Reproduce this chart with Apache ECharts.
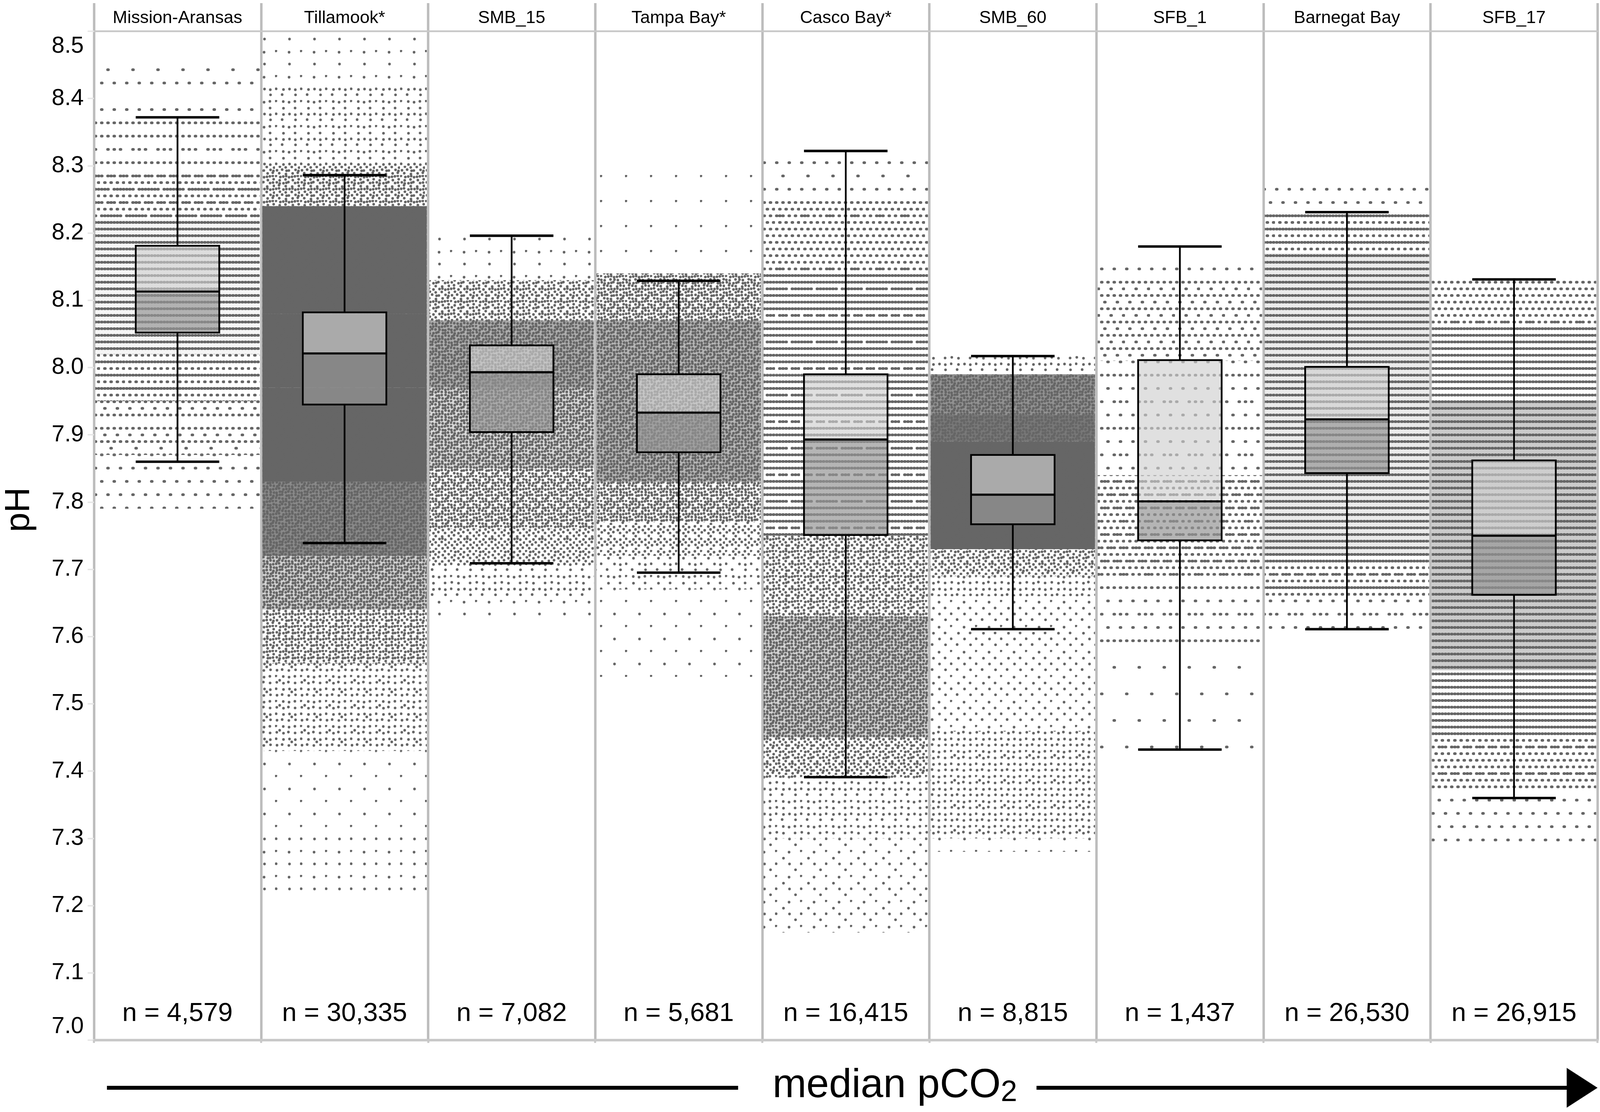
<!DOCTYPE html>
<html>
<head>
<meta charset="utf-8">
<title>pH by site</title>
<script src="https://cdn.jsdelivr.net/npm/echarts@6/dist/echarts.min.js"></script>
<style>html,body{margin:0;padding:0;background:#fff;overflow:hidden}#main{width:100vw;height:100vh}</style>
</head>
<body>
<div id="main"></div>
<script type="text/javascript">
// sites, ordered by median pCO2
var sites = ['Mission-Aransas', 'Tillamook*', 'SMB_15', 'Tampa Bay*', 'Casco Bay*', 'SMB_60', 'SFB_1', 'Barnegat Bay', 'SFB_17'];
var nCounts = ['4,579', '30,335', '7,082', '5,681', '16,415', '8,815', '1,437', '26,530', '26,915'];
var yTickLabels = ['7.0', '7.1', '7.2', '7.3', '7.4', '7.5', '7.6', '7.7', '7.8', '7.9', '8.0', '8.1', '8.2', '8.3', '8.4', '8.5'];

// [lower whisker, Q1, median, Q3, upper whisker]
var boxStats = [
    [7.860, 8.052, 8.113, 8.181, 8.372],
    [7.739, 7.945, 8.021, 8.082, 8.286],
    [7.709, 7.904, 7.993, 8.033, 8.196],
    [7.695, 7.874, 7.933, 7.990, 8.129],
    [7.391, 7.751, 7.893, 7.990, 8.322],
    [7.611, 7.767, 7.811, 7.870, 8.017],
    [7.432, 7.743, 7.801, 8.011, 8.180],
    [7.611, 7.843, 7.923, 8.001, 8.231],
    [7.360, 7.662, 7.750, 7.862, 8.131]
];

// point clouds read as bands: [top pH, bottom pH, share of area darkened by points, 's' stripes / 'd' scattered]
var cloudMissionAransas = [[8.45, 8.37, 0.03], [8.37, 8.29, 0.10], [8.29, 8.22, 0.28], [8.22, 8.02, 0.46], [8.02, 7.95, 0.32], [7.95, 7.87, 0.14], [7.87, 7.79, 0.05]];
var cloudTillamook = [[8.51, 8.42, 0.03], [8.42, 8.30, 0.11], [8.30, 8.24, 0.40], [8.24, 8.08, 1.00], [8.08, 7.97, 1.00], [7.97, 7.83, 1.00], [7.83, 7.72, 0.90], [7.72, 7.64, 0.70], [7.64, 7.56, 0.42], [7.56, 7.43, 0.16], [7.43, 7.31, 0.02], [7.31, 7.21, 0.04]];
var cloudSMB15 = [[8.20, 8.13, 0.03], [8.13, 8.07, 0.38], [8.07, 7.97, 0.80], [7.97, 7.85, 0.68], [7.85, 7.76, 0.50], [7.76, 7.71, 0.30], [7.71, 7.66, 0.12], [7.66, 7.62, 0.03]];
var cloudTampaBay = [[8.29, 8.14, 0.005], [8.14, 8.07, 0.50], [8.07, 7.83, 0.78], [7.83, 7.77, 0.52], [7.77, 7.72, 0.25], [7.72, 7.67, 0.10], [7.67, 7.54, 0.02]];
var cloudCascoBay = [[8.32, 8.25, 0.04], [8.25, 8.14, 0.22], [8.14, 7.99, 0.40], [7.99, 7.75, 0.40], [7.75, 7.63, 0.38, 'd'], [7.63, 7.45, 0.70, 'd'], [7.45, 7.39, 0.36, 'd'], [7.39, 7.30, 0.12, 'd'], [7.30, 7.16, 0.05, 'd']];
var cloudSMB60 = [[8.02, 7.99, 0.12], [7.99, 7.93, 0.88], [7.93, 7.89, 0.95], [7.89, 7.73, 1.00], [7.73, 7.69, 0.35], [7.69, 7.66, 0.14], [7.66, 7.46, 0.07], [7.46, 7.30, 0.15], [7.30, 7.28, 0.03]];
var cloudSFB1 = [[8.18, 8.13, 0.03], [8.13, 8.01, 0.16], [8.01, 7.84, 0.07], [7.84, 7.69, 0.26], [7.69, 7.59, 0.07], [7.59, 7.43, 0.012]];
var cloudBarnegatBay = [[8.27, 8.23, 0.05], [8.23, 8.17, 0.32], [8.17, 7.72, 0.50], [7.72, 7.66, 0.30], [7.66, 7.60, 0.07]];
var cloudSFB17 = [[8.13, 8.06, 0.22], [8.06, 7.95, 0.42], [7.95, 7.55, 0.62], [7.55, 7.45, 0.42], [7.45, 7.37, 0.24], [7.37, 7.29, 0.05]];

var clouds = [cloudMissionAransas, cloudTillamook, cloudSMB15, cloudTampaBay, cloudCascoBay, cloudSMB60, cloudSFB1, cloudBarnegatBay, cloudSFB17];
var cloudKind = ['s', 'd', 'd', 'd', 's', 'd', 's', 's', 's'];

var FONT = 'Liberation Sans, Arial, sans-serif';
var DOT = '#666666';
var SEP = '#bdbdbd';

var chartDom = document.getElementById('main');
var myChart = echarts.init(chartDom);
var W = myChart.getWidth(), H = myChart.getHeight();
// the reference was laid out on a 4563 x 2847 canvas
function px(v) { return v * W / 4563; }
function py(v) { return v * H / 2847; }
function fs(v) { return v * Math.min(W / 4563, H / 2847); }

// ordered dither (Bayer 8x8) to turn a coverage share into a dot texture
var bayer = [
    [0, 32, 8, 40, 2, 34, 10, 42],
    [48, 16, 56, 24, 50, 18, 58, 26],
    [12, 44, 4, 36, 14, 46, 6, 38],
    [60, 28, 52, 20, 62, 30, 54, 22],
    [3, 35, 11, 43, 1, 33, 9, 41],
    [51, 19, 59, 27, 49, 17, 57, 25],
    [15, 47, 7, 39, 13, 45, 5, 37],
    [63, 31, 55, 23, 61, 29, 53, 21]
];
var CELL = Math.max(4, Math.round(fs(9)));
var DOT_R = fs(3.8);
var ROW = Math.max(6, Math.round(py(17)));
var STRIPE_H = fs(8);
var DOT_FULL = Math.PI * DOT_R * DOT_R / (CELL * CELL);
var STRIPE_FULL = STRIPE_H / ROW;
var tiles = {};

function getTile(kind, frac) {
    var key = kind + Math.round(frac * 64);
    if (tiles[key]) return tiles[key];
    var c = document.createElement('canvas');
    c.width = CELL * 8;
    c.height = (kind === 's' ? ROW : CELL) * 8;
    var g = c.getContext('2d');
    g.fillStyle = DOT;
    for (var r = 0; r < 8; r++) {
        for (var k = 0; k < 8; k++) {
            var b = bayer[r][k];
            if ((b + 0.5) / 64 >= frac) continue;
            if (kind === 's') {
                var y0 = r * ROW + (ROW - STRIPE_H) / 2;
                g.beginPath();
                g.moveTo(k * CELL + STRIPE_H / 2, y0);
                g.lineTo((k + 1) * CELL - STRIPE_H / 2 + 1, y0);
                g.arc((k + 1) * CELL - STRIPE_H / 2 + 1, y0 + STRIPE_H / 2, STRIPE_H / 2, -Math.PI / 2, Math.PI / 2);
                g.lineTo(k * CELL + STRIPE_H / 2, y0 + STRIPE_H);
                g.arc(k * CELL + STRIPE_H / 2, y0 + STRIPE_H / 2, STRIPE_H / 2, Math.PI / 2, Math.PI * 1.5);
                g.fill();
            } else {
                var jx = ((b * 5) % 7 - 3) * CELL / 14;
                var jy = ((b * 3) % 7 - 3) * CELL / 14;
                g.beginPath();
                g.arc(k * CELL + CELL / 2 + jx, r * CELL + CELL / 2 + jy, DOT_R, 0, Math.PI * 2);
                g.fill();
            }
        }
    }
    tiles[key] = c;
    return c;
}

var bandData = [];
clouds.forEach(function (bands, i) {
    bands.forEach(function (b) {
        var kind = b[3] || cloudKind[i];
        bandData.push([i, b[0], b[1], b[2], kind === 's' ? 1 : 0]);
    });
});

var boxData = boxStats.map(function (s, i) { return [i].concat(s); });
var N_LABEL_PH = 7.039;

function renderBand(params, api) {
    var i = api.value(0);
    var p0 = api.coord([i + 0.008, api.value(1)]);
    var p1 = api.coord([i + 0.992, api.value(2)]);
    var cov = api.value(3);
    var kind = api.value(4) === 1 ? 's' : 'd';
    var full = kind === 's' ? STRIPE_FULL : DOT_FULL;
    var rect = { x: p0[0], y: p0[1], width: p1[0] - p0[0], height: p1[1] - p0[1] };
    var children = [];
    var under = Math.max(0, (cov - full) / (1 - full));
    if (under > 0) {
        children.push({ type: 'rect', shape: rect, style: { fill: DOT, opacity: under } });
    }
    children.push({ type: 'rect', shape: rect, style: { fill: { image: getTile(kind, Math.min(1, cov / full)), repeat: 'repeat' } } });
    return { type: 'group', children: children };
}

function renderBox(params, api) {
    var i = api.value(0);
    var lo = api.value(1), q1 = api.value(2), med = api.value(3), q3 = api.value(4), hi = api.value(5);
    var xl = api.coord([i + 0.25, lo])[0];
    var xr = api.coord([i + 0.75, lo])[0];
    var xc = (xl + xr) / 2;
    var yLo = api.coord([i, lo])[1], yQ1 = api.coord([i, q1])[1], yMed = api.coord([i, med])[1];
    var yQ3 = api.coord([i, q3])[1], yHi = api.coord([i, hi])[1];
    var black = { stroke: '#000', lineWidth: fs(5) };
    return {
        type: 'group',
        children: [
            { type: 'rect', shape: { x: xl, y: yQ3, width: xr - xl, height: yMed - yQ3 }, style: { fill: 'rgba(207,207,207,0.65)' } },
            { type: 'rect', shape: { x: xl, y: yMed, width: xr - xl, height: yQ1 - yMed }, style: { fill: 'rgba(150,150,150,0.7)' } },
            { type: 'line', shape: { x1: xc, y1: yHi, x2: xc, y2: yQ3 }, style: black },
            { type: 'line', shape: { x1: xc, y1: yQ1, x2: xc, y2: yLo }, style: black },
            { type: 'line', shape: { x1: xl, y1: yHi, x2: xr, y2: yHi }, style: { stroke: '#000', lineWidth: fs(7) } },
            { type: 'line', shape: { x1: xl, y1: yLo, x2: xr, y2: yLo }, style: { stroke: '#000', lineWidth: fs(7) } },
            { type: 'rect', shape: { x: xl, y: yQ3, width: xr - xl, height: yQ1 - yQ3 }, style: { fill: 'none', stroke: '#000', lineWidth: fs(5) } },
            { type: 'line', shape: { x1: xl, y1: yMed, x2: xr, y2: yMed }, style: { stroke: '#000', lineWidth: fs(6) } }
        ]
    };
}

var option = {
    backgroundColor: '#fff',
    animation: false,
    grid: [
        { left: px(268), right: px(7), top: py(80), bottom: py(184) },
        { left: px(268), right: px(7), top: py(8), height: py(72) }
    ],
    xAxis: [{
        gridIndex: 0, type: 'value', min: 0, max: 9, interval: 1,
        axisLine: { show: true, lineStyle: { color: '#c8c8c8', width: fs(7) } },
        axisTick: { show: true, length: fs(8), lineStyle: { color: '#c8c8c8', width: fs(6) } },
        axisLabel: { show: false },
        splitLine: { show: true, lineStyle: { color: SEP, width: fs(7) } }
    }, {
        gridIndex: 1, type: 'value', min: 0, max: 9, interval: 1,
        axisLine: { show: true, lineStyle: { color: '#c8c8c8', width: fs(5) } },
        axisTick: { show: false },
        axisLabel: { show: false },
        splitLine: { show: true, lineStyle: { color: SEP, width: fs(7) } }
    }],
    yAxis: [{
        gridIndex: 0, type: 'value', min: 7, max: 8.5, interval: 0.1,
        axisLine: { show: false },
        axisTick: { show: true, length: fs(18), lineStyle: { color: '#e6e6e6', width: fs(4) } },
        splitLine: { show: false },
        axisLabel: {
            margin: fs(29), fontSize: fs(66), color: '#000', fontFamily: FONT,
            formatter: function (v) {
                var k = Math.round((v - 7) * 10);
                var t = yTickLabels[k];
                if (k === 0) return '{lo|' + t + '}';
                if (k === yTickLabels.length - 1) return '{hi|' + t + '}';
                return t;
            },
            rich: {
                lo: { fontSize: fs(66), color: '#000', fontFamily: FONT, padding: [0, 0, fs(76), 0] },
                hi: { fontSize: fs(66), color: '#000', fontFamily: FONT, padding: [fs(86), 0, 0, 0] }
            }
        }
    }, {
        gridIndex: 1, type: 'value', min: 0, max: 1, show: false
    }],
    series: [{
        name: 'points', type: 'custom', xAxisIndex: 0, yAxisIndex: 0,
        data: bandData, renderItem: renderBand, clip: true, silent: true, z: 1
    }, {
        name: 'boxes', type: 'custom', xAxisIndex: 0, yAxisIndex: 0,
        data: boxData, renderItem: renderBox, silent: true, z: 3
    }, {
        name: 'n', type: 'custom', xAxisIndex: 0, yAxisIndex: 0,
        data: nCounts.map(function (n, i) { return [i + 0.5, N_LABEL_PH]; }),
        renderItem: function (params, api) {
            var p = api.coord([api.value(0), api.value(1)]);
            return { type: 'text', x: p[0], y: p[1], style: { text: 'n = ' + nCounts[params.dataIndex], fontSize: fs(75), fontFamily: FONT, fill: '#000', align: 'center', verticalAlign: 'middle' } };
        },
        silent: true, z: 4
    }, {
        name: 'sites', type: 'custom', xAxisIndex: 1, yAxisIndex: 1,
        data: sites.map(function (s, i) { return [i + 0.5, 0.5]; }),
        renderItem: function (params, api) {
            var p = api.coord([api.value(0), api.value(1)]);
            return { type: 'text', x: p[0], y: p[1] + py(3), style: { text: sites[params.dataIndex], fontSize: fs(50), fontFamily: FONT, fill: '#000', align: 'center', verticalAlign: 'middle' } };
        },
        silent: true, z: 4
    }],
    graphic: [
        { type: 'text', x: px(55), y: py(1305), rotation: Math.PI / 2, style: { text: 'pH', fontSize: fs(100), fontFamily: FONT, fill: '#000', align: 'center', verticalAlign: 'middle' } },
        { type: 'line', shape: { x1: px(305), y1: py(2785), x2: px(2105), y2: py(2785) }, style: { stroke: '#000', lineWidth: fs(11) } },
        {
            type: 'text', x: px(2552), y: py(2780),
            style: {
                text: '{m|median pCO}{s|2}', align: 'center', verticalAlign: 'middle',
                rich: {
                    m: { fontSize: fs(116), fontFamily: FONT, fill: '#000' },
                    s: { fontSize: fs(84), fontFamily: FONT, fill: '#000', padding: [fs(40), 0, 0, 0] }
                }
            }
        },
        { type: 'line', shape: { x1: px(2956), y1: py(2785), x2: px(4475), y2: py(2785) }, style: { stroke: '#000', lineWidth: fs(11) } },
        { type: 'polygon', shape: { points: [[px(4468), py(2734)], [px(4556), py(2785)], [px(4468), py(2836)]] }, style: { fill: '#000' } }
    ]
};

myChart.setOption(option);
</script>
</body>
</html>
